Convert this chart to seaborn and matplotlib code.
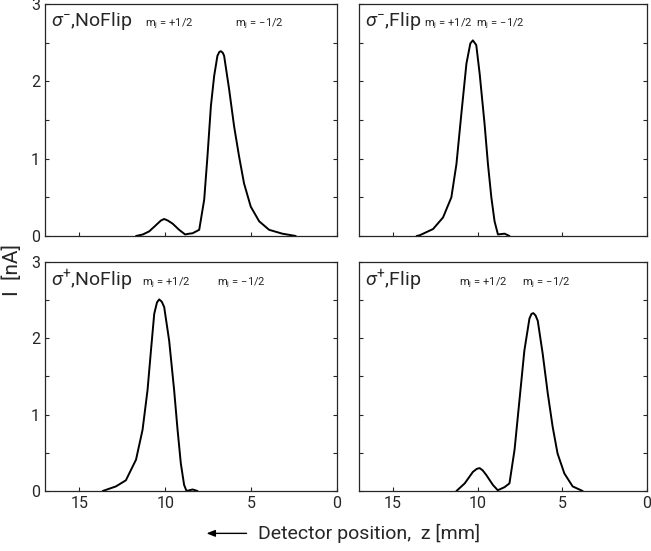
import matplotlib
matplotlib.use('Agg')
from matplotlib import pyplot as plt
from matplotlib.ticker import MultipleLocator
import seaborn as sns
import pandas as pd

# detector position z [mm] and current I [nA]
tl_z = [11.7, 11.3, 10.93, 10.54, 10.25, 10.06, 9.85, 9.57, 9.19, 8.84, 8.6, 8.41, 8.02, 7.73, 7.54, 7.34,
        7.15, 6.96, 6.85, 6.76, 6.65, 6.57, 6.28, 5.99, 5.70, 5.41, 5.02, 4.53, 3.95, 3.18, 2.4]
tl_I = [0.0, 0.02, 0.06, 0.14, 0.20, 0.22, 0.20, 0.16, 0.08, 0.02, 0.03, 0.035, 0.08, 0.47, 1.03, 1.68,
        2.07, 2.33, 2.38, 2.39, 2.37, 2.33, 1.90, 1.42, 1.03, 0.68, 0.38, 0.19, 0.08, 0.03, 0.0]

tr_z = [13.6, 13.41, 12.63, 12.04, 11.55, 11.25, 10.96, 10.66, 10.43, 10.28, 10.08, 9.88, 9.59, 9.39,
        9.19, 9.0, 8.8, 8.41, 8.12]
tr_I = [0.0, 0.01, 0.09, 0.24, 0.50, 0.93, 1.58, 2.23, 2.49, 2.53, 2.47, 2.10, 1.45, 0.93,
        0.50, 0.19, 0.02, 0.03, 0.0]

bl_z = [13.64, 12.87, 12.29, 11.70, 11.32, 11.03, 10.83, 10.64, 10.48, 10.35, 10.2, 10.06, 9.77, 9.48,
        9.28, 9.09, 8.9, 8.76, 8.41, 8.12]
bl_I = [0.0, 0.06, 0.14, 0.41, 0.80, 1.32, 1.84, 2.32, 2.47, 2.51, 2.48, 2.41, 1.97, 1.32,
        0.80, 0.36, 0.08, 0.0, 0.02, 0.0]

br_z = [11.25, 10.76, 10.28, 10.05, 9.88, 9.7, 9.49, 9.1, 8.81, 8.41, 8.12, 7.82, 7.53, 7.24, 6.94,
        6.82, 6.71, 6.58, 6.45, 6.16, 5.86, 5.57, 5.28, 4.88, 4.39, 3.8]
br_I = [0.0, 0.10, 0.25, 0.29, 0.30, 0.27, 0.21, 0.08, 0.01, 0.05, 0.10, 0.54, 1.19, 1.84, 2.26,
        2.32, 2.33, 2.30, 2.23, 1.80, 1.28, 0.84, 0.49, 0.23, 0.06, 0.0]

titles = [r'$\sigma^{-}$,NoFlip', r'$\sigma^{-}$,Flip', r'$\sigma^{+}$,NoFlip', r'$\sigma^{+}$,Flip']
mj_labels = [r'm$_\mathregular{j}$ = +1/2', r'm$_\mathregular{j}$ = $-$1/2']

panels = [
    (tl_z, tl_I, [0.0691, 0.5717, 0.4485, 0.4210], 145, 235),
    (tr_z, tr_I, [0.5515, 0.5717, 0.4424, 0.4210], 424, 476),
    (bl_z, bl_I, [0.0691, 0.1089, 0.4485, 0.4156], 142, 217),
    (br_z, br_I, [0.5515, 0.1089, 0.4424, 0.4156], 459, 522),
]

sns.set_style('ticks')
plt.rcParams['font.family'] = ['Roboto', 'DejaVu Sans']
plt.rcParams['mathtext.fontset'] = 'custom'
plt.rcParams['mathtext.rm'] = 'Roboto'
plt.rcParams['mathtext.it'] = 'Roboto:italic'

fig = plt.figure(figsize=(6.51, 5.51), dpi=100)

for i, (z, I, rect, m1, m2) in enumerate(panels):
    ax = fig.add_axes(rect)
    df = pd.DataFrame({'z': z, 'I': I})
    sns.lineplot(data=df, x='z', y='I', ax=ax, color='black', lw=1.4,
                 sort=False, estimator=None)
    ax.set_xlim(17, 0)
    ax.set_ylim(0, 3)
    ax.set_xticks([15, 10, 5, 0])
    ax.yaxis.set_major_locator(MultipleLocator(1))
    ax.yaxis.set_minor_locator(MultipleLocator(0.5))
    ax.tick_params(which='both', direction='in', top=False, right=True,
                   length=3, width=0.8, labelsize=11.5)
    ax.set_xlabel('')
    ax.set_ylabel('')
    for s in ax.spines.values():
        s.set_linewidth(0.9)
    if i < 2:
        ax.tick_params(labelbottom=False)
    if i % 2 == 1:
        ax.tick_params(labelleft=False)
    x0 = rect[0] * 651
    w = rect[2] * 651
    ty = 0.925 if i < 2 else 0.92
    ax.text(0.02, ty, titles[i], transform=ax.transAxes, fontsize=14, va='center', ha='left')
    ax.text((m1 - x0) / w, ty - 0.01, mj_labels[0], transform=ax.transAxes,
            fontsize=8, va='center', ha='left')
    ax.text((m2 - x0) / w, ty - 0.01, mj_labels[1], transform=ax.transAxes,
            fontsize=8, va='center', ha='left')

fig.text(0.019, 0.51, 'I  [nA]', rotation=90, fontsize=15, ha='center', va='center')
fig.text(0.396, 0.032, 'Detector position,  z [mm]', fontsize=14, ha='left', va='center')
fig.add_artist(matplotlib.patches.FancyArrowPatch(
    (0.383, 0.032), (0.313, 0.032), transform=fig.transFigure,
    arrowstyle='-|>,head_length=5,head_width=2', color='black', lw=1.0))

plt.savefig('out.png', dpi=100)
plt.close('all')
